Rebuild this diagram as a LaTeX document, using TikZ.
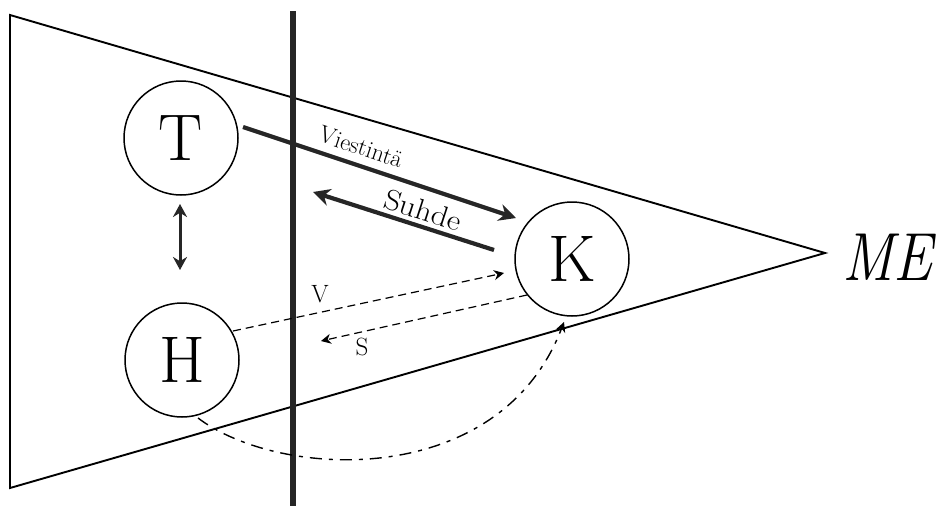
\documentclass[tikz,border=0pt]{standalone}
\usetikzlibrary{arrows.meta}
\begin{document}
\begin{tikzpicture}[x=1pt,y=-1pt,
  edge/.style={line width=1.9pt,line join=miter},
  bar/.style={line width=6.5pt,color=black!85},
  circ/.style={circle,draw,line width=1.5pt,minimum size=114pt,inner sep=0pt},
  letter/.style={font=\fontsize{66}{70}\selectfont},
  thickarr/.style={line width=4.2pt,color=black!85,-{Stealth[length=17pt,width=17pt]}},
  dasharr/.style={line width=1.2pt,dash pattern=on 8pt off 5pt,-{Stealth[length=10pt,width=10pt]}},
  dashdotarr/.style={line width=1.4pt,dash pattern=on 12pt off 7pt on 4pt off 7pt,-{Stealth[length=10pt,width=10pt]}},
  lbl/.style={inner sep=0pt},
  small/.style={font=\fontsize{25}{27}\selectfont,inner sep=0pt}]
\useasboundingbox (0,0) rectangle (941,506);
\fill[white] (0,0) rectangle (941,506);
% triangle
\coordinate (A) at (10,15);
\coordinate (B) at (10,488);
\coordinate (C) at (825,253);
\draw[edge] (A) -- (C) -- (B) -- cycle;
% vertical bar
\coordinate (bt) at (293,11);
\coordinate (bb) at (293,506);
\draw[bar] (bt) -- (bb);
% circles
\node[circ,letter] (T) at (181,138) {T};
\node[circ,letter] (H) at (182,360) {H};
\node[circ,letter] (K) at (572,259) {K};
% T <-> H
\coordinate (th1) at (180,204);
\coordinate (th2) at (180,270);
\draw[line width=3pt,color=black!85,{Stealth[length=13pt,width=14pt]}-{Stealth[length=13pt,width=14pt]}] (th1) -- (th2);
% Viestinta
\coordinate (v1) at (243,127);
\coordinate (v2) at (516,218);
\draw[thickarr] (v1) -- (v2);
\node[lbl,rotate=-18.5,font=\fontsize{24}{26}\selectfont] (vl) at (361,147) {Viestintä};
% Suhde
\coordinate (s1) at (494,250);
\coordinate (s2) at (313,192);
\draw[thickarr] (s1) -- (s2);
\node[lbl,rotate=-18] (sl) at (423,210) {\fontsize{29}{31}\selectfont\scalebox{1.12}[1]{Suhde}};
% dashed V and S
\coordinate (dv1) at (233,331);
\coordinate (dv2) at (504,273);
\draw[dasharr] (dv1) -- (dv2);
\node[small] (vv) at (320,294) {V};
\coordinate (ds1) at (527,295);
\coordinate (ds2) at (321,341);
\draw[dasharr] (ds1) -- (ds2);
\node[small] (ss) at (362,347) {S};
% dash-dot curve
\coordinate (c1) at (198,418);
\coordinate (c2) at (564,322);
\draw[dashdotarr] (c1) .. controls (280,480) and (500,490) .. (c2);
% ME
\node[anchor=base west,inner sep=0pt,font=\fontsize{68}{72}\selectfont\itshape,xscale=0.86] (me) at (842,280) {ME};
\end{tikzpicture}
\end{document}
